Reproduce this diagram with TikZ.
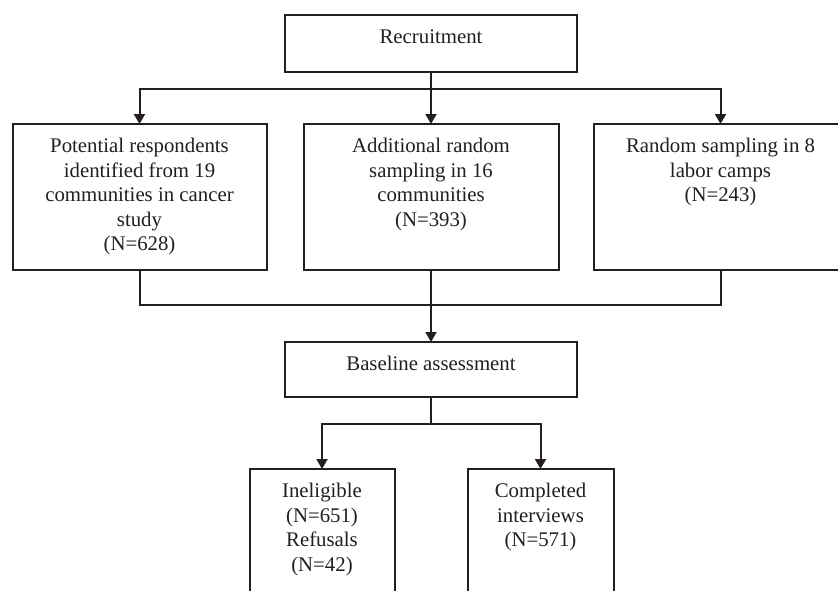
\documentclass[tikz,border=0pt]{standalone}
\usepackage{fontspec}
\setmainfont{Liberation Serif}
\usetikzlibrary{arrows.meta,positioning}
\definecolor{ink}{HTML}{231F20}
\tikzset{
  every node/.style={font=\fontsize{10.4}{12.25}\selectfont, text=ink},
  box/.style={draw=ink, line width=1pt, fill=white, outer sep=0pt, inner sep=0pt},
  txt/.style={align=center, inner sep=0pt},
  line/.style={line width=1pt, draw=ink},
  arrow/.style={-{Triangle[length=5pt,width=5.5pt]}, line width=1pt, draw=ink},
}

\begin{document}
\begin{tikzpicture}[node distance=26pt and 18pt]
\useasboundingbox (0,0) rectangle (419pt,-295pt);
\node[box, minimum width=146pt, minimum height=28.5pt] (recr) at (215.5pt,-21.75pt) {};
\node[txt, below=7pt of recr.north] (recrtxt) {Recruitment};
\node[box, below=26pt of recr, minimum width=127.5pt, minimum height=73pt] (add) {};
\node[box, left=18.5pt of add, minimum width=127pt, minimum height=73pt] (pot) {};
\node[box, right=17.5pt of add, minimum width=127pt, minimum height=73pt] (lab) {};
\node[txt, below=7pt of add.north] (addtxt) {Additional random\\sampling in 16\\communities\\(N=393)};
\node[txt, below=7pt of pot.north] (pottxt) {Potential respondents\\identified from 19\\communities in cancer\\study\\(N=628)};
\node[txt, below=7pt of lab.north] (labtxt) {Random sampling in 8\\labor camps\\(N=243)};
\coordinate[below=8.5pt of recr.south] (split);
\draw[arrow](split)-|(pot.north);\draw[arrow](split)--(add.north);\draw[arrow](split)-|(lab.north);
\draw[line](recr.south)--(split);
\node[box, below=36pt of add, minimum width=146pt, minimum height=27.5pt] (base) {};
\node[txt, below=7pt of base.north] (basetxt) {Baseline assessment};
\coordinate[below=17.5pt of add.south] (merge);
\draw[line](pot.south)|-(merge)-|(lab.south);\draw[line](add.south)--(merge);
\draw[arrow](merge)--(base.north);
\node[box, below=36pt of base, xshift=-54.5pt, minimum width=72.5pt, minimum height=70pt] (inel) {};
\node[box, below=36pt of base, xshift=54.75pt, minimum width=73pt, minimum height=70pt] (comp) {};
\node[txt, below=7pt of inel.north] (ineltxt) {Ineligible\\(N=651)\\Refusals\\(N=42)};
\node[txt, below=7pt of comp.north] (comptxt) {Completed\\interviews\\(N=571)};
\coordinate[below=13.5pt of base.south] (fork);
\draw[line](base.south)--(fork);
\draw[arrow](fork)-|(inel.north);\draw[arrow](fork)-|(comp.north);
\end{tikzpicture}
\end{document}
